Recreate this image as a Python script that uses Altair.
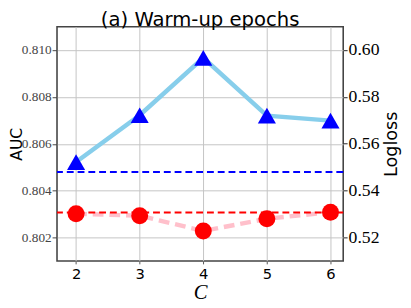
import altair as alt
import pandas as pd

C = [2, 3, 4, 5, 6]
auc = [0.80522, 0.80722, 0.80967, 0.80720, 0.80699]
logloss = [0.5301, 0.5293, 0.5228, 0.5280, 0.5308]
auc_base = [0.8048]
logloss_base = [0.5307]
auc_ticks = [0.802, 0.804, 0.806, 0.808, 0.810]
ll_ticks = [0.52, 0.54, 0.56, 0.58, 0.60]
x_ticks = [2, 3, 4, 5, 6]

df = pd.DataFrame({"C": C, "AUC": auc, "Logloss": logloss})
df_ab = pd.DataFrame({"AUC": auc_base})
df_lb = pd.DataFrame({"Logloss": logloss_base})

xscale = alt.Scale(domain=[1.7, 6.2], nice=False, zero=False)
xax = alt.Axis(values=x_ticks, format="d", title="C", grid=True)
yl_scale = alt.Scale(domain=[0.801, 0.811], nice=False, zero=False)
yr_scale = alt.Scale(domain=[0.51, 0.61], nice=False, zero=False)
ylax = alt.Axis(values=auc_ticks, format=".3f", title="AUC", grid=True)
yrax = alt.Axis(values=ll_ticks, format=".2f", title="Logloss", orient="right", grid=False)

X = alt.X("C:Q", scale=xscale, axis=xax)
YL = alt.Y("AUC:Q", scale=yl_scale, axis=ylax)
YR = alt.Y("Logloss:Q", scale=yr_scale, axis=yrax)

auc_line = alt.Chart(df).mark_line(color="#87CEEB", strokeWidth=4.5).encode(x=X, y=YL)
auc_pts = alt.Chart(df).mark_point(shape="triangle-up", filled=True, color="#0000FF",
                                   size=340, opacity=1).encode(x=X, y=YL)
auc_dash = alt.Chart(df_ab).mark_rule(color="#0000FF", strokeWidth=2,
                                      strokeDash=[7, 4]).encode(y=YL)
left = alt.layer(auc_line, auc_dash, auc_pts)

ll_line = alt.Chart(df).mark_line(color="#FFC0CB", strokeWidth=4.5,
                                  strokeDash=[11, 6]).encode(x=X, y=YR)
ll_pts = alt.Chart(df).mark_circle(color="#FF0000", size=300, opacity=1).encode(x=X, y=YR)
ll_dash = alt.Chart(df_lb).mark_rule(color="#FF0000", strokeWidth=2,
                                     strokeDash=[7, 4]).encode(y=YR)
right = alt.layer(ll_line, ll_dash, ll_pts)

chart = alt.layer(left, right).resolve_scale(y="independent").properties(
    width=292, height=239,
    title=alt.Title("(a) Warm-up epochs", font="DejaVu Sans", fontSize=20,
                    fontWeight="normal", color="black", offset=-3),
    autosize=alt.AutoSizeParams(type="none"),
    padding={"left": 50, "top": 16, "right": 61, "bottom": 45},
).configure_view(stroke="#444", strokeWidth=1.6).configure_axis(
    labelFlush=False, domain=False, gridColor="#c4c4c4", gridWidth=1,
    titleFontWeight="normal", titleColor="black",
).configure_axisBottom(
    labelFont="DejaVu Sans", labelFontSize=15, labelColor="black", labelPadding=3,
    tickColor="#555", tickSize=3,
    titleFont="Liberation Serif", titleFontStyle="italic", titleFontSize=21, titlePadding=0,
).configure_axisLeft(
    labelFont="Liberation Serif", labelFontSize=13.5, labelColor="#444", labelPadding=1,
    tickColor="#444", tickSize=5,
    titleFont="DejaVu Sans", titleFontSize=16, titlePadding=0, titleBaseline="alphabetic",
).configure_axisRight(
    labelFont="Liberation Serif", labelFontSize=18, labelColor="black", labelPadding=1,
    tickColor="#222", tickSize=4,
    titleFont="DejaVu Sans", titleFontSize=18, titlePadding=4, titleAngle=270,
    titleBaseline="top",
)

chart.save("out.html", embed_options={"renderer": "svg", "actions": False})
